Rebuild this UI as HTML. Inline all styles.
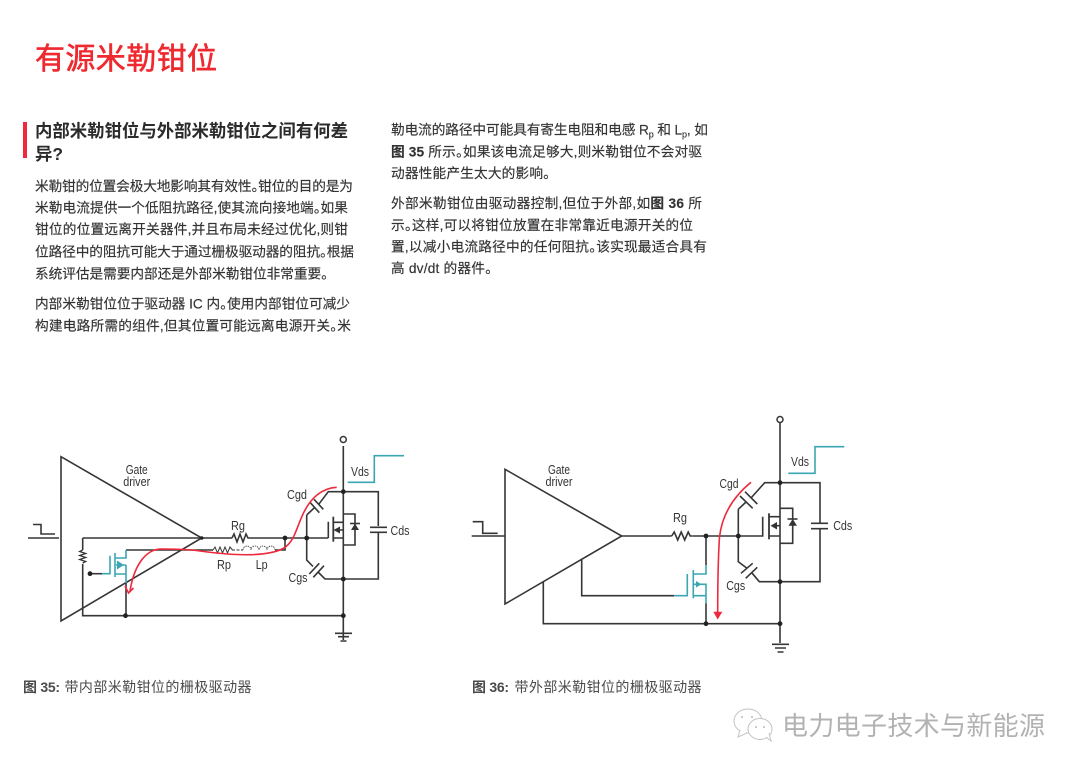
<!DOCTYPE html>
<html><head><meta charset="utf-8"><style>
html,body{margin:0;padding:0;background:#fff;width:1080px;height:773px;overflow:hidden}
svg{display:block}
.cj{font-family:"Liberation Sans","Noto Sans CJK SC",sans-serif;font-feature-settings:"palt"}
.b{font-size:13.7px;fill:#333;stroke:#333;stroke-width:.15}
.c{font-size:14px;fill:#4a4a4a}
.l{font-family:"Liberation Sans",sans-serif;font-size:13px;fill:#333;text-anchor:middle}
.w{fill:none;stroke:#363636;stroke-width:1.6}
.t{fill:none;stroke:#3aa6b2;stroke-width:1.6}
.r{fill:none;stroke:#ee2a3c;stroke-width:1.6}
</style></head><body>
<svg width="1080" height="773" viewBox="0 0 1080 773" xmlns="http://www.w3.org/2000/svg">
<rect width="1080" height="773" fill="#fff"/>
<text class="cj" x="35" y="69" font-size="30" fill="#ee2a30" stroke="#ee2a30" stroke-width=".6" textLength="182">有源米勒钳位</text>
<rect x="23" y="122" width="4" height="36" fill="#ee2a3c"/>
<g class="cj" font-size="17.4" font-weight="700" fill="#2b2b2b">
<text x="35" y="137" textLength="313">内部米勒钳位与外部米勒钳位之间有何差</text>
<text x="35" y="160" textLength="28">异?</text>
</g>
<g class="cj b">
<text x="35" y="191" textLength="318">米勒钳的位置会极大地影响其有效性。钳位的目的是为</text>
<text x="35" y="212.500" textLength="313">米勒电流提供一个低阻抗路径,使其流向接地端。如果</text>
<text x="35" y="234" textLength="313">钳位的位置远离开关器件,并且布局未经过优化,则钳</text>
<text x="35" y="256.500" textLength="319">位路径中的阻抗可能大于通过栅极驱动器的阻抗。根据</text>
<text x="35" y="278.500" textLength="293">系统评估是需要内部还是外部米勒钳位非常重要。</text>
<text x="35" y="308.500" textLength="315">内部米勒钳位位于驱动器 IC 内。使用内部钳位可减少</text>
<text x="35" y="330.500" textLength="316">构建电路所需的组件,但其位置可能远离电源开关。米</text>
<text x="391" y="134.500" textLength="317">勒电流的路径中可能具有寄生电阻和电感 R<tspan font-size="9" dy="3">p</tspan><tspan dy="-3"> 和 L</tspan><tspan font-size="9" dy="3">p</tspan><tspan dy="-3">, 如</tspan></text>
<text x="391" y="156.500" textLength="311"><tspan font-weight="700">图 35</tspan> 所示。如果该电流足够大,则米勒钳位不会对驱</text>
<text x="391" y="178" textLength="159">动器性能产生太大的影响。</text>
<text x="391" y="208" textLength="311">外部米勒钳位由驱动器控制,但位于外部,如<tspan font-weight="700">图 36</tspan> 所</text>
<text x="391" y="230" textLength="302">示。这样,可以将钳位放置在非常靠近电源开关的位</text>
<text x="391" y="251.500" textLength="316">置,以减小电流路径中的任何阻抗。该实现最适合具有</text>
<text x="391" y="273" textLength="101">高 dv/dt 的器件。</text>
</g>

<!-- Left diagram -->
<g class="w">
<path d="M61 456.7L201.7 538L61 621Z"/>
<path d="M28 538H59"/>
<path d="M33 524.5H41V534H55"/>
<path d="M82.7 538H232M250 538H328.3M328.3 521.7V538"/>
<path d="M82.7 538V550M82.7 564V615.7H343.3"/>
<path d="M82.7 550l-3 1.5l6 2l-6 2l6 2l-6 2l6 2l-3 1.5" stroke-width="1.3"/>
<path d="M232 538l2-4l3 8l3-8l3 8l3-8l2 4h2"/>
<path d="M90 573.7H102"/>
<path d="M126 550H213M126 583V615.7"/>
<path d="M213 550l2-3l2.500 6l2.500-6l2.500 6l2.500-6l2.500 6l2.500-6l2.500 3" stroke-width="1"/>
<path d="M232 550h11" stroke-width="1" stroke-dasharray="3 1.500"/>
<path d="M243 550a4 4 0 0 1 8 0a4 4 0 0 1 8 0a4 4 0 0 1 8 0a4 4 0 0 1 8 0" stroke-width=".8" stroke-dasharray="1.500 .8"/>
<path d="M275 550H285V538"/>
<path d="M343.300 446V640"/>
<path d="M343.300 491.700H378.300V526M378.300 532.300V579H325L318 572"/>
<path d="M370 527.300H387M370 532.300H387"/>
<path d="M306.700 515V560L313 566.500"/>
<path d="M306.700 515L314.600 507.500M310 502.300L319.300 512.700M314 499.300L323.300 509.300M318.700 504.300L328.300 491.700H343.300"/>
<path d="M309.300 574L319.300 563.300M313.300 577.300L324 565.700"/>
<path d="M333.300 516.700V541.700" stroke-width="1.800"/>
<path d="M333.300 522.300H343.300M333.300 538H343.300M343.300 530H337"/>
<path d="M343.300 514H355V545H343.300M355 514V545"/>
<path d="M350 523.500H360"/>
<path d="M335 633.300H352M338 636.700H349M340.500 641H346.500"/>
<circle cx="343.300" cy="439.500" r="3" fill="#fff" stroke-width="1.500"/>
</g>
<path d="M333.500 530L340 526.500V533.500Z" fill="#333"/>
<path d="M355 523.500L351 530H359Z" fill="#333"/>
<g fill="#222">
<circle cx="90" cy="573.700" r="2.400"/><circle cx="125.500" cy="615.700" r="2.400"/>
<circle cx="285" cy="538" r="2.400"/><circle cx="306.700" cy="538" r="2.400"/>
<circle cx="343.300" cy="491.700" r="2.400"/><circle cx="343.300" cy="579" r="2.400"/>
<circle cx="343.300" cy="615.700" r="2.400"/><circle cx="201.700" cy="538" r="1.800"/>
</g>
<g class="t">
<path d="M102 573.700H110V555.700"/>
<path d="M115 553V577"/>
<path d="M115 558H126V550M115 574H126V583M126 565V574M116 565H126"/>
<path d="M347.700 482.300H374.300V455.700H404"/>
</g>
<path d="M117 560.500L124 565L117 569.500Z" fill="#3aa6b2"/>
<path class="r" d="M336.700 487.300C322 488 311 498 304 512C296 528 295 541 284 548C268 557 236 556 200 551C190 549.500 178 549 160 549C145 550 134 566 130 591"/>
<path class="r" d="M125 586L128.500 593L133.500 588"/>
<g class="l">
<text x="136.700" y="474" textLength="22" lengthAdjust="spacingAndGlyphs">Gate</text>
<text x="136.700" y="486" textLength="27" lengthAdjust="spacingAndGlyphs">driver</text>
<text x="238" y="530" textLength="14" lengthAdjust="spacingAndGlyphs">Rg</text>
<text x="224" y="569" textLength="14" lengthAdjust="spacingAndGlyphs">Rp</text>
<text x="261.700" y="569" textLength="12" lengthAdjust="spacingAndGlyphs">Lp</text>
<text x="297" y="499" textLength="20" lengthAdjust="spacingAndGlyphs">Cgd</text>
<text x="298" y="582" textLength="19" lengthAdjust="spacingAndGlyphs">Cgs</text>
<text x="400" y="535" textLength="19" lengthAdjust="spacingAndGlyphs">Cds</text>
<text x="360" y="476" textLength="18" lengthAdjust="spacingAndGlyphs">Vds</text>
</g>

<!-- Right diagram -->
<g class="w">
<path d="M505 469.300L621.700 536L505 604Z"/>
<path d="M471.700 536H505"/>
<path d="M472.700 521.700H482.700V533.300H497.700"/>
<path d="M621.700 536H671.700M692.300 536H762.700V516.700"/>
<path d="M671.700 536l2.500-4l3.500 8l3.500-8l3.500 8l3.500-8l2 4h2"/>
<path d="M706 536V565M706 603.300V623.700"/>
<path d="M581.700 559.300V595.700H674"/>
<path d="M543.300 581.700V623.700H780"/>
<path d="M780 423V643"/>
<path d="M780 482.700H820V523.300M820 528.700V581.700H759.300L751.700 572.700"/>
<path d="M811 523.300H828M811 528.700H828"/>
<path d="M738.300 509.300V561.700L747 568.300"/>
<path d="M738.300 509.300L746 502M740 496L752.700 508.300M745 491.700L757.300 504M751 498L764.700 482.700H780"/>
<path d="M741 573.300L752.700 563.300M745.700 578.300L757.300 567.300"/>
<path d="M769 513.300V539.300" stroke-width="1.800"/>
<path d="M769 516.700H780M769 536H780M780 525.700H774"/>
<path d="M780 508.300H792.700V543.300H780"/>
<path d="M787.500 519H797.500"/>
<path d="M772 644.300H789M775 648H786M777.500 652H783.500"/>
<circle cx="780" cy="419.500" r="3" fill="#fff" stroke-width="1.500"/>
</g>
<path d="M770.500 525.700L777 522V529.500Z" fill="#333"/>
<path d="M792.700 519L788.500 525.700H797Z" fill="#333"/>
<g fill="#222">
<circle cx="706" cy="536" r="2.400"/><circle cx="738.300" cy="536" r="2.400"/>
<circle cx="780" cy="482.700" r="2.400"/><circle cx="780" cy="581.700" r="2.400"/>
<circle cx="706" cy="623.700" r="2.400"/><circle cx="780" cy="623.700" r="2.400"/>
</g>
<g class="t">
<path d="M674 595.700H687.300V574"/>
<path d="M693.300 570V598.300"/>
<path d="M693.300 574H706V565M693.300 584.300H706V603.300M693.300 595.700H706"/>
<path d="M788.300 473.300H815V446.700H844.300"/>
</g>
<path d="M696 581L701.500 584.300L696 587.500Z" fill="#3aa6b2"/>
<path class="r" d="M751 482.300C733 497 722 515 719.500 537C718 560 717.700 590 717.700 612" stroke-width="1.800"/>
<path d="M713.300 611.700H722.300L717.700 619.500Z" fill="#ee2a3c"/>
<g class="l">
<text x="559" y="474" textLength="22" lengthAdjust="spacingAndGlyphs">Gate</text>
<text x="559" y="486" textLength="27" lengthAdjust="spacingAndGlyphs">driver</text>
<text x="680" y="522" textLength="14" lengthAdjust="spacingAndGlyphs">Rg</text>
<text x="729" y="488" textLength="19" lengthAdjust="spacingAndGlyphs">Cgd</text>
<text x="735.700" y="590" textLength="19" lengthAdjust="spacingAndGlyphs">Cgs</text>
<text x="842.700" y="530" textLength="19" lengthAdjust="spacingAndGlyphs">Cds</text>
<text x="800" y="466" textLength="18" lengthAdjust="spacingAndGlyphs">Vds</text>
</g>

<!-- Captions -->
<g class="cj c">
<text x="23" y="692" font-weight="700" textLength="37">图 35:</text>
<text x="64.500" y="692" textLength="187">带内部米勒钳位的栅极驱动器</text>
<text x="472" y="692" font-weight="700" textLength="37">图 36:</text>
<text x="514.500" y="692" textLength="187">带外部米勒钳位的栅极驱动器</text>
</g>

<!-- Watermark -->
<g fill="#fff" stroke="#c4c4c4" stroke-width="1">
<ellipse cx="748" cy="721" rx="14" ry="12"/>
<path d="M740 730L738 737L747 733" />
<ellipse cx="760" cy="729" rx="12" ry="10.500"/>
<path d="M766 737L771 741L769 733"/>
</g>
<g fill="#bbb"><circle cx="742" cy="717" r="1"/><circle cx="752" cy="717" r="1"/><circle cx="756" cy="727" r="1"/><circle cx="764" cy="727" r="1"/></g>
<text class="cj" x="782" y="735" font-size="26" fill="#b2b2b2" textLength="263">电力电子技术与新能源</text>
</svg>
</body></html>
